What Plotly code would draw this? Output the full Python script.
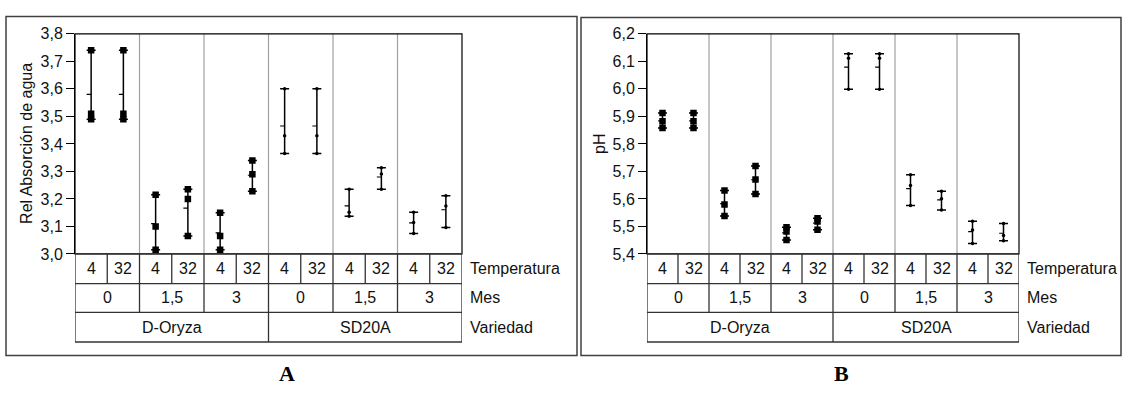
import plotly.graph_objects as go

W, H = 1123, 396

# ---------------- data ----------------
temperatura = ["4", "32"]
mes = ["0", "1,5", "3"]
variedad = ["D-Oryza", "SD20A"]

# three observations per (Variedad, Mes, Temperatura) cell, in table order
abs_doryza = [[3.74, 3.51, 3.49], [3.74, 3.51, 3.49],
              [3.215, 3.10, 3.015], [3.235, 3.20, 3.065],
              [3.15, 3.065, 3.015], [3.34, 3.29, 3.228]]
abs_sd20a = [[3.60, 3.43, 3.365], [3.60, 3.43, 3.365],
             [3.235, 3.152, 3.137], [3.313, 3.291, 3.235],
             [3.152, 3.114, 3.074], [3.212, 3.174, 3.096]]
ph_doryza = [[5.912, 5.882, 5.858], [5.912, 5.882, 5.858],
             [5.631, 5.580, 5.538], [5.720, 5.671, 5.618],
             [5.497, 5.482, 5.451], [5.530, 5.518, 5.488]]
ph_sd20a = [[6.128, 6.111, 5.999], [6.128, 6.111, 5.999],
            [5.688, 5.649, 5.576], [5.628, 5.601, 5.560],
            [5.519, 5.487, 5.438], [5.511, 5.467, 5.448]]

abs_ticks = [3.0, 3.1, 3.2, 3.3, 3.4, 3.5, 3.6, 3.7, 3.8]
ph_ticks = [5.4, 5.5, 5.6, 5.7, 5.8, 5.9, 6.0, 6.1, 6.2]

FONT = "Arial, Liberation Sans, sans-serif"


def px(x):
    return x / W


def py(y):
    return 1 - y / H


fig = go.Figure()

panels = [
    dict(xa="x", ya="y", x0=75, x1=462, data=[abs_doryza, abs_sd20a],
         ticks=abs_ticks, title="Rel Absorción de agua", title_x=27,
         frame=(6, 9, 577, 363), letter="A", letter_x=287, lab_x=468),
    dict(xa="x2", ya="y2", x0=647, x1=1019, data=[ph_doryza, ph_sd20a],
         ticks=ph_ticks, title="pH", title_x=600,
         frame=(581, 10, 1121, 363), letter="B", letter_x=841, lab_x=1025),
]

plot_top, plot_bot = 27, 257
rows = [257, 288, 318, 349]

shapes = []
annotations = []

for p in panels:
    xa, ya = p["xa"], p["ya"]
    xs_err, means, plus, minus = [], [], [], []
    tick_x, tick_y = [], []
    for vi, series in enumerate(p["data"]):
        mx, my = [], []
        for ci, vals in enumerate(series):
            xc = vi * 6 + ci + 0.5
            m = sum(vals) / len(vals)
            xs_err.append(xc)
            means.append(m)
            plus.append(max(vals) - m)
            minus.append(m - min(vals))
            tick_x += [xc - 0.14, xc, None]
            tick_y += [m, m, None]
            mx += [xc] * len(vals)
            my += vals
        if vi == 0:
            mk = dict(symbol="square", size=6.5, color="black")
        else:
            mk = dict(symbol="circle", size=3.5, color="black")
        fig.add_trace(go.Scatter(x=mx, y=my, mode="markers", marker=mk,
                                 xaxis=xa, yaxis=ya, showlegend=False,
                                 hoverinfo="skip"))
    fig.add_trace(go.Scatter(
        x=xs_err, y=means, mode="markers",
        marker=dict(size=1, color="rgba(0,0,0,0)"),
        error_y=dict(type="data", symmetric=False, array=plus,
                     arrayminus=minus, color="black", thickness=1.5, width=4.5),
        xaxis=xa, yaxis=ya, showlegend=False, hoverinfo="skip"))
    fig.add_trace(go.Scatter(x=tick_x, y=tick_y, mode="lines",
                             line=dict(color="black", width=1.2),
                             xaxis=xa, yaxis=ya, showlegend=False,
                             hoverinfo="skip"))

    # grey separators between Mes groups inside plot
    for b in range(2, 12, 2):
        shapes.append(dict(type="line", xref=xa, yref="paper", x0=b, x1=b,
                           y0=py(plot_bot), y1=py(plot_top),
                           line=dict(color="#a0a0a0", width=1.2), layer="below"))
    # plot border
    shapes.append(dict(type="rect", xref=xa + " domain", yref=ya + " domain",
                       x0=0, x1=1, y0=0, y1=1,
                       line=dict(color="black", width=1.2)))

    # table
    tc = "#333333"
    for r in rows:
        shapes.append(dict(type="line", xref=xa, yref="paper", x0=0, x1=12,
                           y0=py(r), y1=py(r), line=dict(color=tc, width=1.3)))
    for b in range(0, 13):
        shapes.append(dict(type="line", xref=xa, yref="paper", x0=b, x1=b,
                           y0=py(rows[0]), y1=py(rows[1]),
                           line=dict(color=tc, width=1.3)))
    for b in range(0, 13, 2):
        shapes.append(dict(type="line", xref=xa, yref="paper", x0=b, x1=b,
                           y0=py(rows[1]), y1=py(rows[2]),
                           line=dict(color=tc, width=1.3)))
    for b in range(0, 13, 6):
        shapes.append(dict(type="line", xref=xa, yref="paper", x0=b, x1=b,
                           y0=py(rows[2]), y1=py(rows[3]),
                           line=dict(color=tc, width=1.3)))

    tf = dict(family=FONT, size=16, color="#111111")
    for i in range(12):
        annotations.append(dict(xref=xa, yref="paper", x=i + 0.5,
                                y=py((rows[0] + rows[1]) / 2),
                                text=temperatura[i % 2], showarrow=False,
                                font=tf, xanchor="center", yanchor="middle"))
    for i in range(6):
        annotations.append(dict(xref=xa, yref="paper", x=2 * i + 1,
                                y=py((rows[1] + rows[2]) / 2),
                                text=mes[i % 3], showarrow=False,
                                font=tf, xanchor="center", yanchor="middle"))
    for i in range(2):
        annotations.append(dict(xref=xa, yref="paper", x=6 * i + 3,
                                y=py((rows[2] + rows[3]) / 2),
                                text=variedad[i], showarrow=False,
                                font=tf, xanchor="center", yanchor="middle"))
    for lab, r0, r1 in [("Temperatura", rows[0], rows[1]),
                        ("Mes", rows[1], rows[2]),
                        ("Variedad", rows[2], rows[3])]:
        annotations.append(dict(xref="paper", yref="paper", x=px(p["lab_x"]),
                                y=py((r0 + r1) / 2), text=lab, showarrow=False,
                                font=tf, xanchor="left", yanchor="middle"))

    # y title
    annotations.append(dict(xref="paper", yref="paper", x=px(p["title_x"]),
                            y=py((plot_top + plot_bot) / 2), text=p["title"],
                            textangle=-90, showarrow=False, font=tf,
                            xanchor="center", yanchor="middle"))
    # frame
    fx0, fy0, fx1, fy1 = p["frame"]
    shapes.append(dict(type="rect", xref="paper", yref="paper",
                       x0=px(fx0), x1=px(fx1), y0=py(fy1), y1=py(fy0),
                       line=dict(color="#404040", width=1.5)))
    # panel letter
    annotations.append(dict(xref="paper", yref="paper", x=px(p["letter_x"]),
                            y=py(382), text="<b>%s</b>" % p["letter"],
                            showarrow=False,
                            font=dict(family="Liberation Serif, Times New Roman, serif",
                                      size=22, color="black"),
                            xanchor="center", yanchor="middle"))

yaxis_common = dict(showline=True, linecolor="black", linewidth=1,
                    ticks="outside", ticklen=8, tickcolor="black", tickwidth=1,
                    tickformat=".1f", showgrid=False, zeroline=False,
                    tickfont=dict(family=FONT, size=16, color="#111111"))
xaxis_common = dict(visible=False, range=[0, 12], showgrid=False, zeroline=False)

fig.update_layout(
    width=W, height=H, margin=dict(l=0, r=0, t=0, b=0),
    paper_bgcolor="white", plot_bgcolor="white",
    separators=",.",
    xaxis=dict(domain=[px(75), px(462)], anchor="y", **xaxis_common),
    yaxis=dict(domain=[py(plot_bot), py(plot_top)], anchor="x",
               range=[3.0, 3.8], tickvals=abs_ticks, **yaxis_common),
    xaxis2=dict(domain=[px(647), px(1019)], anchor="y2", **xaxis_common),
    yaxis2=dict(domain=[py(plot_bot), py(plot_top)], anchor="x2",
                range=[5.4, 6.2], tickvals=ph_ticks, **yaxis_common),
    shapes=shapes, annotations=annotations, showlegend=False,
)

fig.write_html("out.html")
